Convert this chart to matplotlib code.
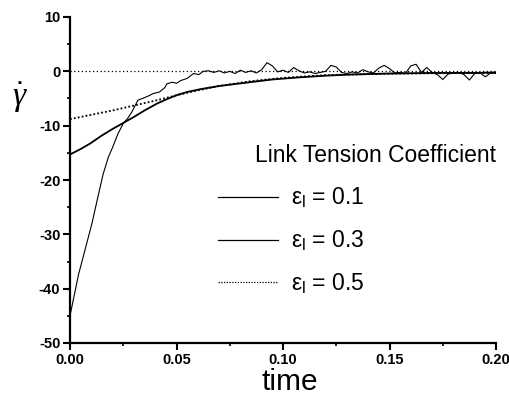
import matplotlib
matplotlib.use("Agg")
import matplotlib.pyplot as plt
from matplotlib.ticker import MultipleLocator

plt.rcParams['font.family'] = ['Liberation Sans', 'DejaVu Sans']
plt.rcParams['mathtext.fontset'] = 'custom'
plt.rcParams['mathtext.rm'] = 'Liberation Sans'
plt.rcParams['mathtext.it'] = 'Liberation Serif:italic'
plt.rcParams['axes.unicode_minus'] = False

# ---- data ----
t_01 = [0.0, 0.004, 0.0103, 0.0127, 0.0155, 0.018, 0.020, 0.0225, 0.025, 0.027,
        0.029, 0.0319, 0.034, 0.037, 0.039, 0.042, 0.0445, 0.0455, 0.048, 0.050,
        0.052, 0.055, 0.058, 0.0605, 0.0625,
        0.0650, 0.0675, 0.0700, 0.0725, 0.0750, 0.0775, 0.0800, 0.0825, 0.0850, 0.0875,
        0.0900, 0.0925, 0.0950, 0.0975, 0.1000, 0.1025, 0.1050, 0.1075, 0.1100, 0.1125,
        0.1150, 0.1175, 0.1200, 0.1225, 0.1250, 0.1275, 0.1300, 0.1325, 0.1350, 0.1375,
        0.1400, 0.1425, 0.1450, 0.1475, 0.1500, 0.1525, 0.1550, 0.1575, 0.1600, 0.1625,
        0.1650, 0.1675, 0.1700, 0.1725, 0.1750, 0.1775, 0.1800, 0.1825, 0.1850, 0.1875,
        0.1900, 0.1925, 0.1950, 0.1975, 0.2000]
g_01 = [-45.0, -37.4, -28.0, -23.8, -19.0, -15.8, -14.0, -11.5, -9.6, -8.7,
        -7.5, -5.3, -5.0, -4.5, -4.1, -3.8, -3.0, -2.3, -2.0, -2.2,
        -1.7, -1.3, -0.4, -0.6, 0.0,
        0.1, -0.2, 0.1, -0.3, 0.0, -0.4, 0.2, -0.2, 0.1, -0.3,
        0.3, 1.6, 1.0, -0.1, 0.2, -0.2, 0.7, 0.1, -0.3, -0.1,
        -0.4, -0.2, 0.0, 1.1, 0.8, -0.2, -0.4, -0.1, -0.3, 0.3,
        -0.1, -0.3, 0.6, 1.1, 0.5, -0.3, -0.2, -0.4, 1.0, 1.3,
        -0.2, 0.7, -0.2, -0.6, -1.5, -0.5, -0.3, -0.2, -0.6, -1.6,
        -0.4, -0.3, -1.0, -0.3, -0.4]

t_03 = [0.0, 0.005, 0.0094, 0.015, 0.020, 0.025, 0.030, 0.035, 0.041, 0.045,
        0.050, 0.055, 0.061, 0.070, 0.0845, 0.095, 0.108, 0.120, 0.131, 0.150,
        0.170, 0.190, 0.200]
g_03 = [-15.3, -14.3, -13.3, -11.8, -10.6, -9.5, -8.4, -7.2, -5.9, -5.2,
        -4.4, -3.8, -3.3, -2.7, -2.0, -1.5, -1.1, -0.8, -0.6, -0.4,
        -0.3, -0.3, -0.2]

t_05 = [0.0, 0.01, 0.02, 0.03, 0.04, 0.05, 0.06, 0.07, 0.085, 0.10,
        0.12, 0.14, 0.16, 0.18, 0.20]
g_05 = [-8.8, -8.0, -7.2, -6.3, -5.4, -4.4, -3.5, -2.7, -1.8, -1.2,
        -0.7, -0.5, -0.4, -0.3, -0.3]

labels = [r'ε$_\mathrm{l}$ = 0.1', r'ε$_\mathrm{l}$ = 0.3', r'ε$_\mathrm{l}$ = 0.5']
x_ticks = [0.00, 0.05, 0.10, 0.15, 0.20]
y_ticks = [-50, -40, -30, -20, -10, 0, 10]

# ---- figure ----
fig = plt.figure(figsize=(5.10, 3.96), dpi=100)
ax = fig.add_axes([70/510, 1-343/396, 426/510, 326/396])

ax.axhline(0, color='black', lw=0.9, ls=(0, (1, 2)), zorder=1)
l1, = ax.plot(t_01, g_01, color='black', lw=0.8, label=labels[0])
l2, = ax.plot(t_03, g_03, color='black', lw=1.3, label=labels[1])
l3, = ax.plot(t_05, g_05, color='black', lw=1.3, ls=(0, (1, 1.2)), label=labels[2])

ax.set_xlim(0, 0.2)
ax.set_ylim(-50, 10)
ax.set_xticks(x_ticks)
ax.set_xticklabels([f'{v:.2f}' for v in x_ticks])
ax.set_yticks(y_ticks)
ax.xaxis.set_minor_locator(MultipleLocator(0.025))
ax.yaxis.set_minor_locator(MultipleLocator(5))

for s in ['top', 'right']:
    ax.spines[s].set_visible(False)
for s in ['left', 'bottom']:
    ax.spines[s].set_linewidth(1.6)

ax.tick_params(which='major', direction='out', length=5, width=1.5, labelsize=10.5, pad=2)
ax.tick_params(which='minor', direction='out', length=2.5, width=1.2)
for lab in ax.get_xticklabels() + ax.get_yticklabels():
    lab.set_fontweight('bold')

ax.set_xlabel('time', fontsize=21.5)
ax.xaxis.set_label_coords((290-70)/426, (343-395.5)/326)
ax.xaxis.label.set_va('bottom')
ax.set_ylabel(r'$\dot{\gamma}$', fontsize=24, rotation=0)
ax.yaxis.set_label_coords(-0.117, 0.70)

ax.text((255-70)/426, (343-155)/326, 'Link Tension Coefficient', transform=ax.transAxes,
        fontsize=16.5, ha='left', va='center')

leg = ax.legend(handles=[l1, l2, l3], loc='upper left',
                bbox_to_anchor=((218-70)/426, (343-186)/326),
                frameon=False, fontsize=16.5, handlelength=2.6, handletextpad=0.6,
                labelspacing=0.8, borderpad=0, borderaxespad=0)
for h in leg.get_lines():
    h.set_linewidth(0.9)

fig.savefig('out.png', dpi=100)
